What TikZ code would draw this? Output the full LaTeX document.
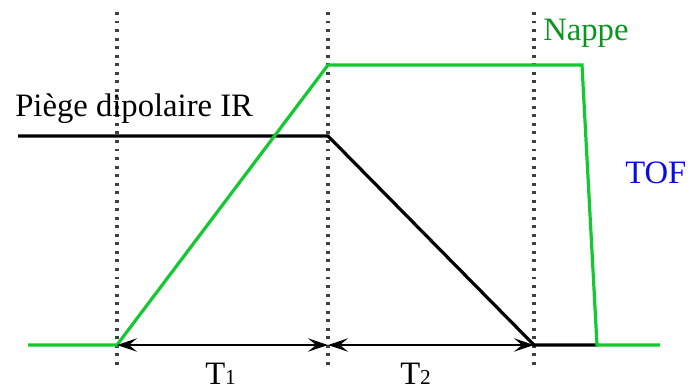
\documentclass[tikz,border=0pt]{standalone}
\usepackage{fontspec}
\setmainfont{Liberation Serif}
\usetikzlibrary{arrows.meta}
\definecolor{lgreen}{RGB}{20,200,50}
\definecolor{tgreen}{RGB}{10,150,30}
\definecolor{tblue}{RGB}{10,10,230}
\begin{document}
\begin{tikzpicture}[x=0.75pt,y=-0.75pt,
  vdot/.style={line width=2.3pt,dash pattern=on 2.2pt off 4.2pt,black!75},
  gline/.style={lgreen,line width=2.4pt,line join=miter},
  kline/.style={black,line width=2.4pt,line join=miter},
  dim/.style={black,line width=1.2pt,{Stealth[length=15pt,width=10pt,inset=6pt]}-{Stealth[length=15pt,width=10pt,inset=6pt]}},
  lbl/.style={inner sep=0pt,font=\fontsize{24.5}{26}\selectfont}]
\useasboundingbox (0,0) rectangle (690,390);
% dotted guides
\coordinate (d1t) at (117,12); \coordinate (d1b) at (117,368);
\coordinate (d2t) at (328,12); \coordinate (d2b) at (328,368);
\coordinate (d3t) at (534,12); \coordinate (d3b) at (534,368);
\draw[vdot] (d1t) -- (d1b);
\draw[vdot] (d2t) -- (d2b);
\draw[vdot] (d3t) -- (d3b);
% black curve
\coordinate (k0) at (18,136); \coordinate (k1) at (328,136);
\coordinate (k2) at (534,345); \coordinate (k3) at (598,345);
\draw[kline] (k0) -- (k1) -- (k2) -- (k3);
% green curve
\coordinate (g0) at (28,345); \coordinate (g1) at (117,345);
\coordinate (g2) at (328,65); \coordinate (g3) at (582,65);
\coordinate (g4) at (597,345); \coordinate (g5) at (660,345);
\draw[gline] (g0) -- (g1) -- (g2) -- (g3) -- (g4) -- (g5);
% dimension arrows
\coordinate (a1) at (117,345); \coordinate (a2) at (328,345); \coordinate (a3) at (534,345);
\draw[dim] (a1) -- (a2);
\draw[dim] (a2) -- (a3);
% labels
\node[lbl,anchor=base west] (piege) at (15,116) {Pi\`ege dipolaire IR};
\node[lbl,anchor=base west,text=tgreen] (nappe) at (543,40) {Nappe};
\node[lbl,anchor=base west,text=tblue] (tof) at (625,183) {TOF};
\node[lbl,anchor=base west] (t1) at (205,384) {T{\fontsize{16}{17}\selectfont 1}};
\node[lbl,anchor=base west] (t2) at (400,384) {T{\fontsize{16}{17}\selectfont 2}};
\end{tikzpicture}
\end{document}
